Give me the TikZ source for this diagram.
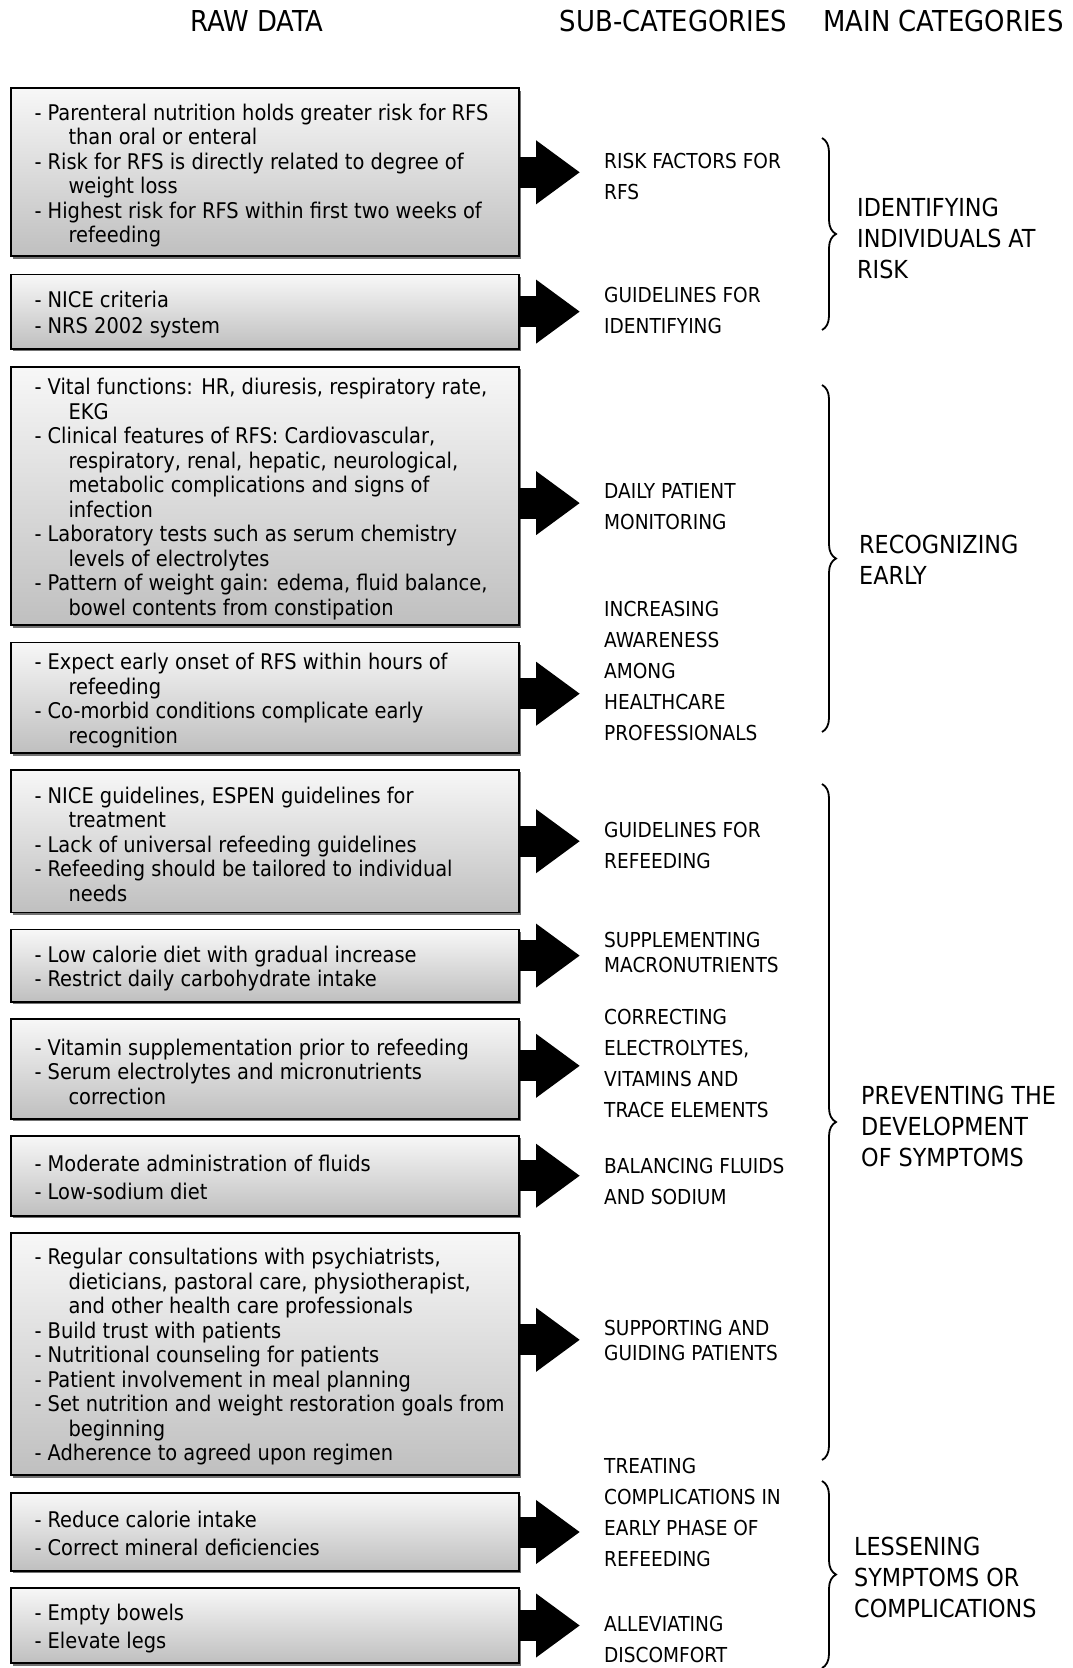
\documentclass[tikz,border=0pt]{standalone}
\usepackage{fontspec}
\setmainfont{DejaVu Sans Condensed}
\usetikzlibrary{arrows.meta,shadows,decorations.pathreplacing}
\newcommand\indt{\hspace*{34pt}}
\begin{document}
\begin{tikzpicture}[x=1pt,y=-1pt,
  rawbox/.style={draw=black, line width=1.8pt, top color=black!3, bottom color=black!25,
    minimum width=508pt, inner sep=0pt,
    drop shadow={shadow xshift=2.5pt, shadow yshift=-2.5pt, fill=black!55, opacity=1}},
  rawtext/.style={anchor=west, align=left, inner sep=0pt, font=\fontsize{21.6}{24.5}\selectfont},
  subtext/.style={anchor=west, align=left, inner sep=0pt, font=\fontsize{20.6}{31}\selectfont},
  subtight/.style={anchor=west, align=left, inner sep=0pt, font=\fontsize{20.6}{24.5}\selectfont},
  maintext/.style={anchor=west, align=left, inner sep=0pt, font=\fontsize{24.8}{31}\selectfont},
  headtext/.style={inner sep=0pt, font=\fontsize{28.8}{32}\selectfont},
  bigarrow/.style={line width=31pt, -{Triangle[length=44pt, width=61pt]}, shorten >=24pt},
  catbrace/.style={decorate, decoration={brace, amplitude=14pt}, line width=1.8pt}
]
\useasboundingbox (0,0) rectangle (1072,1668);

% headers
\node[headtext] (h1) at (257,21) {RAW DATA};
\node[headtext] (h2) at (673.6,21) {SUB-CATEGORIES};
\node[headtext] (h3) at (943.6,21) {MAIN CATEGORIES};

% raw data boxes
\node[rawbox, minimum height=168pt] (r1) at (264.8,172.3) {};
\node[rawbox, minimum height=74.4pt] (r2) at (264.8,311.6) {};
\node[rawbox, minimum height=258.4pt] (r3) at (264.8,496.1) {};
\node[rawbox, minimum height=110.6pt] (r4) at (264.8,697.7) {};
\node[rawbox, minimum height=142.5pt] (r5) at (264.8,841.2) {};
\node[rawbox, minimum height=72.3pt] (r6) at (264.8,965.6) {};
\node[rawbox, minimum height=100pt] (r7) at (264.8,1068.8) {};
\node[rawbox, minimum height=79.8pt] (r8) at (264.8,1175.7) {};
\node[rawbox, minimum height=242.4pt] (r9) at (264.8,1353.8) {};
\node[rawbox, minimum height=77.6pt] (r10) at (264.8,1532) {};
\node[rawbox, minimum height=75.5pt] (r11) at (264.8,1625.5) {};

% raw data texts
\node[rawtext] (t1) at ([xshift=24.4pt,yshift=-3pt]r1.west) {- Parenteral nutrition holds greater risk for RFS\\\indt than oral or enteral\\- Risk for RFS is directly related to degree of\\\indt weight loss\\- Highest risk for RFS within first two weeks of\\\indt refeeding};
\node[rawtext] (t2) at ([xshift=24.4pt,yshift=-3pt]r2.west) {- NICE criteria\\[2pt]- NRS 2002 system};
\node[rawtext] (t3) at ([xshift=24.4pt,yshift=-3pt]r3.west) {- Vital functions: HR, diuresis, respiratory rate,\\\indt EKG\\- Clinical features of RFS: Cardiovascular,\\\indt respiratory, renal, hepatic, neurological,\\\indt metabolic complications and signs of\\\indt infection\\- Laboratory tests such as serum chemistry\\\indt levels of electrolytes\\- Pattern of weight gain: edema, fluid balance,\\\indt bowel contents from constipation};
\node[rawtext] (t4) at ([xshift=24.4pt,yshift=-3pt]r4.west) {- Expect early onset of RFS within hours of\\\indt refeeding\\- Co-morbid conditions complicate early\\\indt recognition};
\node[rawtext] (t5) at ([xshift=24.4pt,yshift=-3pt]r5.west) {- NICE guidelines, ESPEN guidelines for\\\indt treatment\\- Lack of universal refeeding guidelines\\- Refeeding should be tailored to individual\\\indt needs};
\node[rawtext] (t6) at ([xshift=24.4pt,yshift=-3pt]r6.west) {- Low calorie diet with gradual increase\\- Restrict daily carbohydrate intake};
\node[rawtext] (t7) at ([xshift=24.4pt,yshift=-3pt]r7.west) {- Vitamin supplementation prior to refeeding\\- Serum electrolytes and micronutrients\\\indt correction};
\node[rawtext] (t8) at ([xshift=24.4pt,yshift=-1.5pt]r8.west) {- Moderate administration of fluids\\[4pt]- Low-sodium diet};
\node[rawtext] (t9) at ([xshift=24.4pt,yshift=-3pt]r9.west) {- Regular consultations with psychiatrists,\\\indt dieticians, pastoral care, physiotherapist,\\\indt and other health care professionals\\- Build trust with patients\\- Nutritional counseling for patients\\- Patient involvement in meal planning\\- Set nutrition and weight restoration goals from\\\indt beginning\\- Adherence to agreed upon regimen};
\node[rawtext] (t10) at ([xshift=24.4pt,yshift=-1.5pt]r10.west) {- Reduce calorie intake\\[4pt]- Correct mineral deficiencies};
\node[rawtext] (t11) at ([xshift=24.4pt,yshift=-3pt]r11.west) {- Empty bowels\\[4pt]- Elevate legs};

% sub-categories
\node[subtext] (s1) at (604,176) {RISK FACTORS FOR\\RFS};
\node[subtext] (s2) at (604,310) {GUIDELINES FOR\\IDENTIFYING};
\node[subtext] (s3) at (604,506.8) {DAILY PATIENT\\MONITORING};
\node[subtext] (s4) at (604,670.5) {INCREASING\\AWARENESS\\AMONG\\HEALTHCARE\\PROFESSIONALS};
\node[subtext] (s5) at (604,845) {GUIDELINES FOR\\REFEEDING};
\node[subtight] (s6) at (604,952.3) {SUPPLEMENTING\\MACRONUTRIENTS};
\node[subtext] (s7) at (604,1063.5) {CORRECTING\\ELECTROLYTES,\\VITAMINS AND\\TRACE ELEMENTS};
\node[subtext] (s8) at (604,1181) {BALANCING FLUIDS\\AND SODIUM};
\node[subtight] (s9) at (604,1340.5) {SUPPORTING AND\\GUIDING PATIENTS};
\node[subtext] (s10) at (604,1512.3) {TREATING\\COMPLICATIONS IN\\EARLY PHASE OF\\REFEEDING};
\node[subtext] (s11) at (604,1639.5) {ALLEVIATING\\DISCOMFORT};

% arrows
\draw[bigarrow] (r1.east) -- (r1.east -| s1.west);
\draw[bigarrow] (r2.east) -- (r2.east -| s2.west);
\draw[bigarrow] ([yshift=-7pt]r3.east) -- ([yshift=-7pt]r3.east -| s3.west);
\draw[bigarrow] ([yshift=4pt]r4.east) -- ([yshift=4pt]r4.east -| s4.west);
\draw[bigarrow] (r5.east) -- (r5.east -| s5.west);
\draw[bigarrow] ([yshift=10pt]r6.east) -- ([yshift=10pt]r6.east -| s6.west);
\draw[bigarrow] ([yshift=3pt]r7.east) -- ([yshift=3pt]r7.east -| s7.west);
\draw[bigarrow] (r8.east) -- (r8.east -| s8.west);
\draw[bigarrow] ([yshift=14pt]r9.east) -- ([yshift=14pt]r9.east -| s9.west);
\draw[bigarrow] (r10.east) -- (r10.east -| s10.west);
\draw[bigarrow] (r11.east) -- (r11.east -| s11.west);

% main categories
\node[maintext] (m1) at (857,238) {IDENTIFYING\\INDIVIDUALS AT\\RISK};
\node[maintext] (m2) at (859,560) {RECOGNIZING\\EARLY};
\node[maintext] (m3) at (861,1126) {PREVENTING THE\\DEVELOPMENT\\OF SYMPTOMS};
\node[maintext] (m4) at (854,1577) {LESSENING\\SYMPTOMS OR\\COMPLICATIONS};

% braces
\draw[catbrace] (822,138) -- (822,330);
\draw[catbrace] (822,385) -- (822,732);
\draw[catbrace] (822,784) -- (822,1460);
\draw[catbrace] (822,1481) -- (822,1668);
\end{tikzpicture}
\end{document}
